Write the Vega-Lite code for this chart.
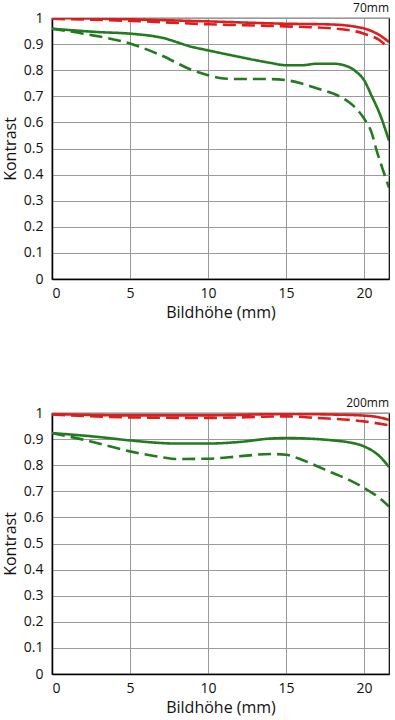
{
  "$schema": "https://vega.github.io/schema/vega-lite/v6.json",
  "padding": {"left": 1, "top": 1, "right": 0, "bottom": 0},
  "spacing": 75,
  "config": {
    "font": "Open Sans",
    "view": {"stroke": "#000", "strokeWidth": 1.2},
    "axis": {
      "domainColor": "#000", "domainWidth": 1.5,
      "gridColor": "#9a9a9a", "gridWidth": 1,
      "ticks": false, "labelFontSize": 14, "labelColor": "#111",
      "titleFontSize": 16, "titleFontWeight": "normal", "titleColor": "#111"
    },
    "title": {"fontSize": 12, "fontWeight": "normal", "anchor": "end", "offset": -4, "color": "#111"}
  },
  "datasets": {
    "mtf": [
      {"panel": "70mm", "freq": "10", "dir": "S", "x": 0, "y": 1.0},
      {"panel": "70mm", "freq": "10", "dir": "S", "x": 5, "y": 0.995},
      {"panel": "70mm", "freq": "10", "dir": "S", "x": 10, "y": 0.987},
      {"panel": "70mm", "freq": "10", "dir": "S", "x": 15, "y": 0.978},
      {"panel": "70mm", "freq": "10", "dir": "S", "x": 18, "y": 0.975},
      {"panel": "70mm", "freq": "10", "dir": "S", "x": 19.5, "y": 0.966},
      {"panel": "70mm", "freq": "10", "dir": "S", "x": 20, "y": 0.96},
      {"panel": "70mm", "freq": "10", "dir": "S", "x": 21, "y": 0.934},
      {"panel": "70mm", "freq": "10", "dir": "S", "x": 21.6, "y": 0.908},

      {"panel": "70mm", "freq": "10", "dir": "M", "x": 0, "y": 0.997},
      {"panel": "70mm", "freq": "10", "dir": "M", "x": 5, "y": 0.989},
      {"panel": "70mm", "freq": "10", "dir": "M", "x": 10, "y": 0.976},
      {"panel": "70mm", "freq": "10", "dir": "M", "x": 15, "y": 0.968},
      {"panel": "70mm", "freq": "10", "dir": "M", "x": 18, "y": 0.96},
      {"panel": "70mm", "freq": "10", "dir": "M", "x": 20, "y": 0.94},
      {"panel": "70mm", "freq": "10", "dir": "M", "x": 21, "y": 0.915},
      {"panel": "70mm", "freq": "10", "dir": "M", "x": 21.6, "y": 0.883},

      {"panel": "70mm", "freq": "30", "dir": "S", "x": 0, "y": 0.959},
      {"panel": "70mm", "freq": "30", "dir": "S", "x": 3, "y": 0.946},
      {"panel": "70mm", "freq": "30", "dir": "S", "x": 5, "y": 0.94},
      {"panel": "70mm", "freq": "30", "dir": "S", "x": 7, "y": 0.925},
      {"panel": "70mm", "freq": "30", "dir": "S", "x": 9, "y": 0.889},
      {"panel": "70mm", "freq": "30", "dir": "S", "x": 10, "y": 0.876},
      {"panel": "70mm", "freq": "30", "dir": "S", "x": 12, "y": 0.851},
      {"panel": "70mm", "freq": "30", "dir": "S", "x": 14, "y": 0.828},
      {"panel": "70mm", "freq": "30", "dir": "S", "x": 15, "y": 0.819},
      {"panel": "70mm", "freq": "30", "dir": "S", "x": 16, "y": 0.819},
      {"panel": "70mm", "freq": "30", "dir": "S", "x": 17, "y": 0.825},
      {"panel": "70mm", "freq": "30", "dir": "S", "x": 18, "y": 0.825},
      {"panel": "70mm", "freq": "30", "dir": "S", "x": 19, "y": 0.813},
      {"panel": "70mm", "freq": "30", "dir": "S", "x": 19.5, "y": 0.794},
      {"panel": "70mm", "freq": "30", "dir": "S", "x": 20, "y": 0.762},
      {"panel": "70mm", "freq": "30", "dir": "S", "x": 20.5, "y": 0.70},
      {"panel": "70mm", "freq": "30", "dir": "S", "x": 21, "y": 0.634},
      {"panel": "70mm", "freq": "30", "dir": "S", "x": 21.6, "y": 0.53},

      {"panel": "70mm", "freq": "30", "dir": "M", "x": 0, "y": 0.959},
      {"panel": "70mm", "freq": "30", "dir": "M", "x": 2, "y": 0.94},
      {"panel": "70mm", "freq": "30", "dir": "M", "x": 5, "y": 0.902},
      {"panel": "70mm", "freq": "30", "dir": "M", "x": 7, "y": 0.857},
      {"panel": "70mm", "freq": "30", "dir": "M", "x": 9, "y": 0.80},
      {"panel": "70mm", "freq": "30", "dir": "M", "x": 10, "y": 0.781},
      {"panel": "70mm", "freq": "30", "dir": "M", "x": 11, "y": 0.768},
      {"panel": "70mm", "freq": "30", "dir": "M", "x": 12, "y": 0.766},
      {"panel": "70mm", "freq": "30", "dir": "M", "x": 14, "y": 0.766},
      {"panel": "70mm", "freq": "30", "dir": "M", "x": 15, "y": 0.762},
      {"panel": "70mm", "freq": "30", "dir": "M", "x": 16, "y": 0.749},
      {"panel": "70mm", "freq": "30", "dir": "M", "x": 17, "y": 0.73},
      {"panel": "70mm", "freq": "30", "dir": "M", "x": 18, "y": 0.711},
      {"panel": "70mm", "freq": "30", "dir": "M", "x": 19, "y": 0.679},
      {"panel": "70mm", "freq": "30", "dir": "M", "x": 19.5, "y": 0.653},
      {"panel": "70mm", "freq": "30", "dir": "M", "x": 20, "y": 0.615},
      {"panel": "70mm", "freq": "30", "dir": "M", "x": 20.5, "y": 0.558},
      {"panel": "70mm", "freq": "30", "dir": "M", "x": 20.8, "y": 0.494},
      {"panel": "70mm", "freq": "30", "dir": "M", "x": 21.2, "y": 0.42},
      {"panel": "70mm", "freq": "30", "dir": "M", "x": 21.6, "y": 0.35},

      {"panel": "200mm", "freq": "10", "dir": "S", "x": 0, "y": 0.996},
      {"panel": "200mm", "freq": "10", "dir": "S", "x": 5, "y": 0.991},
      {"panel": "200mm", "freq": "10", "dir": "S", "x": 10, "y": 0.991},
      {"panel": "200mm", "freq": "10", "dir": "S", "x": 15, "y": 0.996},
      {"panel": "200mm", "freq": "10", "dir": "S", "x": 18, "y": 0.994},
      {"panel": "200mm", "freq": "10", "dir": "S", "x": 20, "y": 0.99},
      {"panel": "200mm", "freq": "10", "dir": "S", "x": 21, "y": 0.983},
      {"panel": "200mm", "freq": "10", "dir": "S", "x": 21.6, "y": 0.974},

      {"panel": "200mm", "freq": "10", "dir": "M", "x": 0, "y": 0.994},
      {"panel": "200mm", "freq": "10", "dir": "M", "x": 5, "y": 0.983},
      {"panel": "200mm", "freq": "10", "dir": "M", "x": 10, "y": 0.981},
      {"panel": "200mm", "freq": "10", "dir": "M", "x": 15, "y": 0.987},
      {"panel": "200mm", "freq": "10", "dir": "M", "x": 17, "y": 0.981},
      {"panel": "200mm", "freq": "10", "dir": "M", "x": 20, "y": 0.968},
      {"panel": "200mm", "freq": "10", "dir": "M", "x": 21.6, "y": 0.953},

      {"panel": "200mm", "freq": "30", "dir": "S", "x": 0, "y": 0.923},
      {"panel": "200mm", "freq": "30", "dir": "S", "x": 3, "y": 0.908},
      {"panel": "200mm", "freq": "30", "dir": "S", "x": 5, "y": 0.895},
      {"panel": "200mm", "freq": "30", "dir": "S", "x": 8, "y": 0.883},
      {"panel": "200mm", "freq": "30", "dir": "S", "x": 10, "y": 0.883},
      {"panel": "200mm", "freq": "30", "dir": "S", "x": 12, "y": 0.889},
      {"panel": "200mm", "freq": "30", "dir": "S", "x": 14, "y": 0.902},
      {"panel": "200mm", "freq": "30", "dir": "S", "x": 15, "y": 0.904},
      {"panel": "200mm", "freq": "30", "dir": "S", "x": 17, "y": 0.90},
      {"panel": "200mm", "freq": "30", "dir": "S", "x": 18, "y": 0.895},
      {"panel": "200mm", "freq": "30", "dir": "S", "x": 19, "y": 0.888},
      {"panel": "200mm", "freq": "30", "dir": "S", "x": 20, "y": 0.872},
      {"panel": "200mm", "freq": "30", "dir": "S", "x": 21, "y": 0.834},
      {"panel": "200mm", "freq": "30", "dir": "S", "x": 21.6, "y": 0.793},

      {"panel": "200mm", "freq": "30", "dir": "M", "x": 0, "y": 0.923},
      {"panel": "200mm", "freq": "30", "dir": "M", "x": 2, "y": 0.898},
      {"panel": "200mm", "freq": "30", "dir": "M", "x": 5, "y": 0.853},
      {"panel": "200mm", "freq": "30", "dir": "M", "x": 7, "y": 0.831},
      {"panel": "200mm", "freq": "30", "dir": "M", "x": 8, "y": 0.824},
      {"panel": "200mm", "freq": "30", "dir": "M", "x": 10, "y": 0.825},
      {"panel": "200mm", "freq": "30", "dir": "M", "x": 12, "y": 0.834},
      {"panel": "200mm", "freq": "30", "dir": "M", "x": 14, "y": 0.843},
      {"panel": "200mm", "freq": "30", "dir": "M", "x": 15, "y": 0.84},
      {"panel": "200mm", "freq": "30", "dir": "M", "x": 16, "y": 0.821},
      {"panel": "200mm", "freq": "30", "dir": "M", "x": 17, "y": 0.796},
      {"panel": "200mm", "freq": "30", "dir": "M", "x": 18, "y": 0.77},
      {"panel": "200mm", "freq": "30", "dir": "M", "x": 19, "y": 0.745},
      {"panel": "200mm", "freq": "30", "dir": "M", "x": 20, "y": 0.713},
      {"panel": "200mm", "freq": "30", "dir": "M", "x": 21, "y": 0.674},
      {"panel": "200mm", "freq": "30", "dir": "M", "x": 21.6, "y": 0.642}
    ]
  },
  "vconcat": [
    {
      "title": "70mm",
      "width": 337, "height": 261,
      "data": {"name": "mtf"},
      "transform": [{"filter": "datum.panel === '70mm'"}],
      "mark": {"type": "line", "strokeWidth": 2.6, "interpolate": "monotone", "clip": true},
      "encoding": {
        "x": {"field": "x", "type": "quantitative", "title": "Bildhöhe (mm)",
              "scale": {"domain": [0, 21.6], "nice": false},
              "axis": {"values": [0, 5, 10, 15, 20], "labelPadding": 7, "titlePadding": 4}},
        "y": {"field": "y", "type": "quantitative", "title": "Kontrast",
              "scale": {"domain": [0, 1], "nice": false},
              "axis": {"values": [0, 0.1, 0.2, 0.3, 0.4, 0.5, 0.6, 0.7, 0.8, 0.9, 1], "format": ".1~f", "labelPadding": 9, "titlePadding": 5}},
        "color": {"field": "freq", "type": "nominal", "legend": null,
                  "scale": {"domain": ["10", "30"], "range": ["#dc1e1e", "#237a1f"]}},
        "strokeDash": {"field": "dir", "type": "nominal", "legend": null,
                  "scale": {"domain": ["S", "M"], "range": [[1, 0], [13, 6]]}}
      }
    },
    {
      "title": "200mm",
      "width": 337, "height": 261,
      "data": {"name": "mtf"},
      "transform": [{"filter": "datum.panel === '200mm'"}],
      "mark": {"type": "line", "strokeWidth": 2.6, "interpolate": "monotone", "clip": true},
      "encoding": {
        "x": {"field": "x", "type": "quantitative", "title": "Bildhöhe (mm)",
              "scale": {"domain": [0, 21.6], "nice": false},
              "axis": {"values": [0, 5, 10, 15, 20], "labelPadding": 7, "titlePadding": 4}},
        "y": {"field": "y", "type": "quantitative", "title": "Kontrast",
              "scale": {"domain": [0, 1], "nice": false},
              "axis": {"values": [0, 0.1, 0.2, 0.3, 0.4, 0.5, 0.6, 0.7, 0.8, 0.9, 1], "format": ".1~f", "labelPadding": 9, "titlePadding": 5}},
        "color": {"field": "freq", "type": "nominal", "legend": null,
                  "scale": {"domain": ["10", "30"], "range": ["#dc1e1e", "#237a1f"]}},
        "strokeDash": {"field": "dir", "type": "nominal", "legend": null,
                  "scale": {"domain": ["S", "M"], "range": [[1, 0], [13, 6]]}}
      }
    }
  ]
}
